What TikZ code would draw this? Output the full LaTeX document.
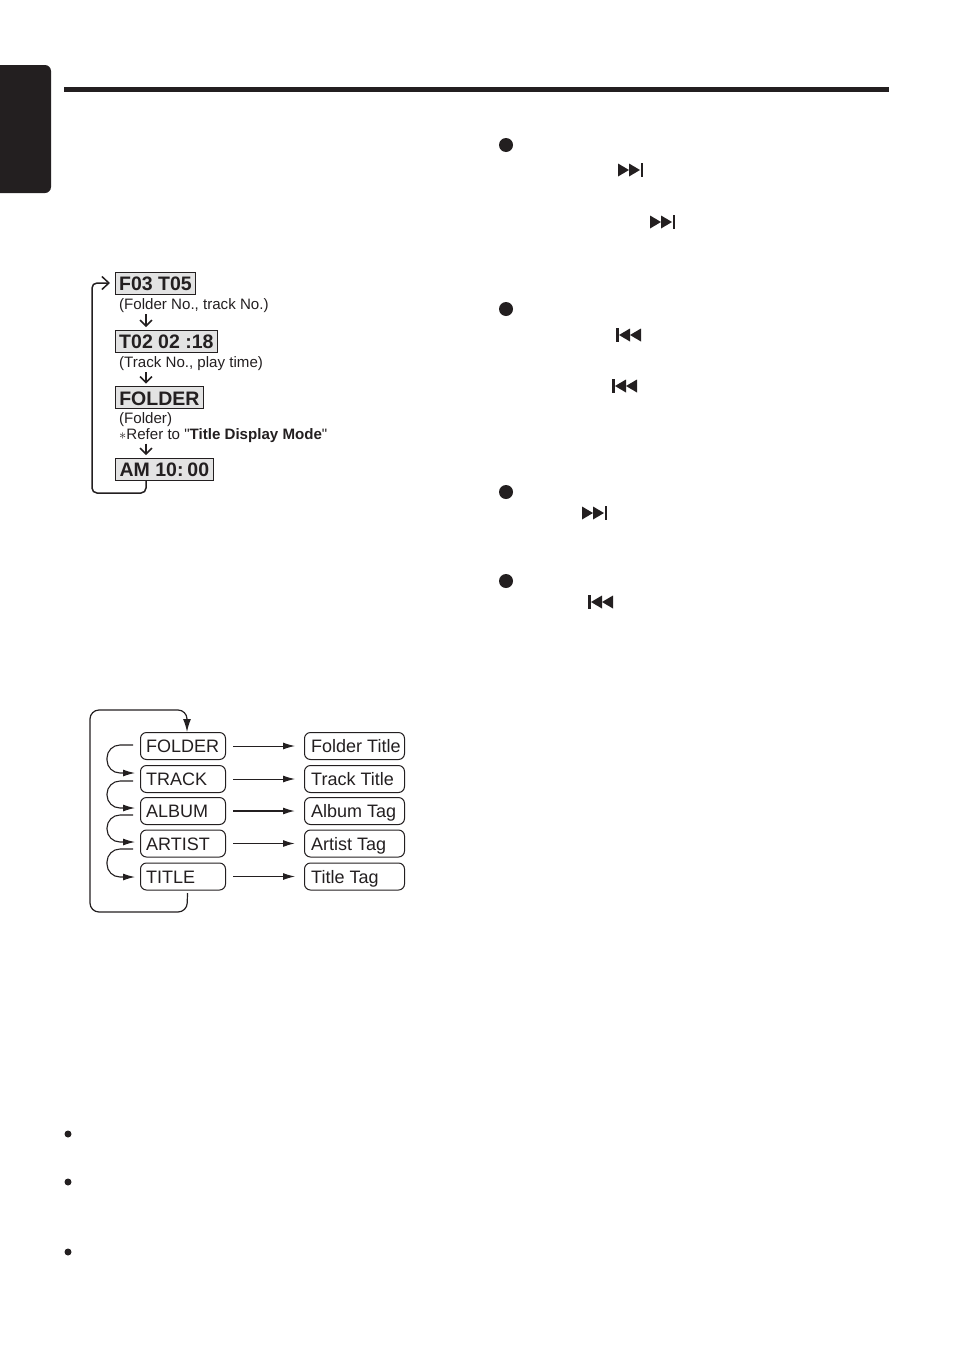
\documentclass[tikz,border=0pt]{standalone}
\usepackage{fontspec}
\setmainfont{Liberation Sans}[Ligatures=TeXOff]
\usetikzlibrary{calc,arrows.meta}
\definecolor{ink}{HTML}{231F20}
\tikzset{
  pics/nexticon/.style={code={
    \fill[ink] (0,-6.5) -- (11,0) -- (0,6.5) -- cycle;
    \fill[ink] (11,-6.5) -- (22,0) -- (11,6.5) -- cycle;
    \fill[ink] (22.5,-7) rectangle (25,7);}},
  pics/previcon/.style={code={
    \fill[ink] (0,-7) rectangle (2.5,7);
    \fill[ink] (14,-6.5) -- (3,0) -- (14,6.5) -- cycle;
    \fill[ink] (25,-6.5) -- (14,0) -- (25,6.5) -- cycle;}}
}
\begin{document}
\begin{tikzpicture}[x=1pt,y=-1pt,
  disp/.style={draw=ink, line width=0.8pt, fill=gray!22, anchor=west, inner sep=0pt, minimum height=22pt, text height=15pt, text depth=0pt, text=ink, font=\fontsize{19.5}{20}\selectfont\bfseries},
  note/.style={anchor=west, inner sep=0pt, text=ink, font=\fontsize{15.1}{16}\selectfont},
  mode/.style={draw=ink, line width=1pt, rounded corners=6pt, anchor=west, inner sep=0pt, minimum height=27pt},
  modelabel/.style={anchor=base west, inner sep=0pt, text=ink, font=\fontsize{18}{20}\selectfont},
  nextstep/.style={-{Straight Barb[length=6pt,width=12pt]}, draw=ink, line width=1.5pt, shorten <=1pt, shorten >=2.5pt},
  back/.style={-{Straight Barb[length=7pt,width=13pt]}, draw=ink, line width=1.5pt, rounded corners=5pt, shorten >=5pt},
  turn/.style={-{Latex[length=12pt,width=7pt]}, draw=ink, line width=1.1pt, rounded corners=13pt},
  wrap/.style={-{Latex[length=13pt,width=8pt]}, draw=ink, line width=1.2pt, rounded corners=9pt},
  map/.style={-{Latex[length=12pt,width=7pt]}, draw=ink, line width=1pt},
  big/.style={circle, fill=ink, inner sep=0pt, minimum size=14pt},
  small/.style={circle, fill=ink, inner sep=0pt, minimum size=7pt}]
\useasboundingbox (0,0) rectangle (953,1352);
% page furniture
\fill[ink, rounded corners=6pt] (-10,65) rectangle (51,193);
\fill[ink] (64,87) rectangle (889,92);
\node[big] (dota) at (506,145) {};
\node[big] (dotb) at (506,309) {};
\node[big] (dotc) at (506,492) {};
\node[big] (dotd) at (506,581) {};
\node[small] (dote) at (68,1134) {};
\node[small] (dotf) at (68,1182) {};
\node[small] (dotg) at (68,1252) {};
\pic at (618,170) {nexticon};
\pic at (650,222) {nexticon};
\pic at (616,335) {previcon};
\pic at (612,386) {previcon};
\pic at (582,513) {nexticon};
\pic at (588,602) {previcon};
% display sequence
\node[disp, minimum width=80pt] (f03) at (115,283) {F03 T05};
\node[note] (f03note) at (119,306) {(Folder No., track No.)};
\node[disp, minimum width=102pt] (t02) at (115,341) {T02 02 :18};
\node[note] (t02note) at (119,364) {(Track No., play time)};
\node[disp, minimum width=88pt] (fold) at (115,397.5) {FOLDER};
\node[note] (foldnote) at (119,420) {(Folder)};
\node[note] (refer) at (119,435.5) {$\ast$Refer to "\textbf{Title Display Mode}"};
\node[disp, minimum width=98pt] (clock) at (115,469) {AM 10:\hspace{4pt}00};
\draw[nextstep] (146,0 |- f03note.south) -- (146,0 |- t02.north);
\draw[nextstep] (146,0 |- t02note.south) -- (146,0 |- fold.north);
\draw[nextstep] (146,0 |- refer.south) -- (146,0 |- clock.north);
\draw[back] (146,0 |- clock.south) -- (146,493) -- (92,493) -- (92,283) -- (f03.west);
% title modes
\foreach \name/\y/\txt/\out/\wid in {
  modea/746/FOLDER/Folder Title/1pt,
  modeb/779/TRACK/Track Title/1pt,
  modec/811/ALBUM/Album Tag/1.5pt,
  moded/843.5/ARTIST/Artist Tag/1.5pt,
  modee/876.5/TITLE/Title Tag/1pt} {
  \node[mode, minimum width=85pt] (\name) at (140,\y) {};
  \node[modelabel] (\name txt) at (146,\y+6.5) {\txt};
  \node[mode, minimum width=100pt] (\name out) at (304,\y) {};
  \node[modelabel] (\name outtxt) at (311,\y+6.5) {\out};
  \draw[map, line width=\wid, shorten <=7pt, shorten >=9pt] (\name) -- (\name out);
}
\foreach \from/\to/\dy/\ey in {modea/modeb/-1/-6, modeb/modec/2/-3, modec/moded/4/-1.5, moded/modee/5.5/0.5} {
  \coordinate (ta) at ($(\from.west)+(0,\dy)$);
  \coordinate (tb) at ($(\to.west)+(0,\ey)$);
  \draw[turn, shorten <=7pt, shorten >=5pt] (ta) -- (107,0 |- ta) -- (107,0 |- tb) -- (tb);
}
\draw[wrap] ($(modee.south)+(4.5,2.5)$) -- (187,912) -- (90,912) -- (90,710) -- (187,710) -- (187,0 |- modea.north);
\end{tikzpicture}
\end{document}
